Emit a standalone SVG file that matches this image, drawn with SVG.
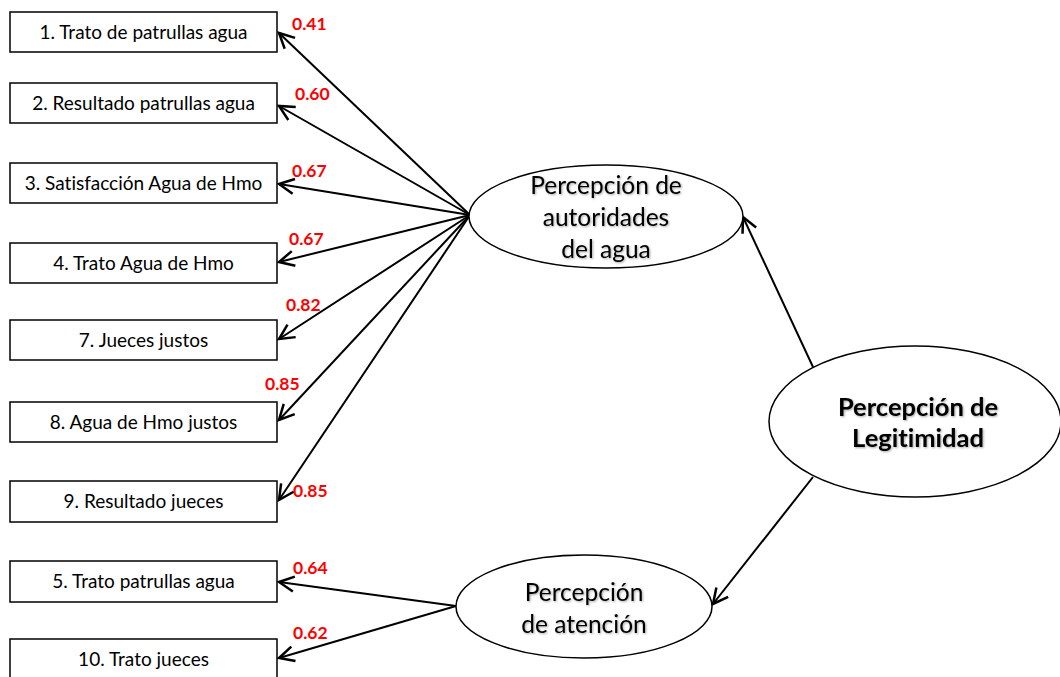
<svg xmlns="http://www.w3.org/2000/svg" width="1060" height="677" viewBox="0 0 1060 677">
<style>
.box{fill:#fff;stroke:#000;stroke-width:1.5}
.bt{font-family:Lato,"Liberation Sans",sans-serif;font-size:19px;fill:#000;text-anchor:middle;font-variant-ligatures:none}
.ell{fill:#fff;stroke:#000;stroke-width:1.5}
.et{font-family:Lato,"Liberation Sans",sans-serif;font-size:24.5px;fill:#000;text-anchor:middle;font-variant-ligatures:none}
.eb{font-weight:bold;font-size:25.5px}
.lbl{font-family:Lato,"Liberation Sans",sans-serif;font-size:17.5px;font-weight:bold;fill:#ff0000}
.con{stroke:#000;stroke-width:2;fill:none;marker-end:url(#ah)}
</style>
<defs>
<marker id="ah" markerUnits="userSpaceOnUse" markerWidth="20" markerHeight="20" viewBox="-14 -8 16 16" refX="0" refY="0" orient="auto">
<path d="M-12,-6 L0,0 L-12,6" fill="none" stroke="#000" stroke-width="2"/>
</marker>
<filter id="sh" x="-10%" y="-10%" width="120%" height="130%">
<feDropShadow dx="1" dy="1" stdDeviation="1" flood-color="#000" flood-opacity="0.35"/>
</filter>
</defs>
<rect width="1060" height="677" fill="#fff"/>
<g id="connectors">
<line class="con" x1="470" y1="215" x2="279" y2="33"/>
<line class="con" x1="470" y1="215" x2="279" y2="106"/>
<line class="con" x1="470" y1="215" x2="279" y2="184"/>
<line class="con" x1="470" y1="215" x2="279" y2="262"/>
<line class="con" x1="470" y1="215" x2="279" y2="339"/>
<line class="con" x1="470" y1="215" x2="279" y2="420"/>
<line class="con" x1="470" y1="215" x2="279" y2="500"/>
<line class="con" x1="456" y1="606" x2="279" y2="582"/>
<line class="con" x1="456" y1="606" x2="279" y2="658"/>
<line class="con" x1="813" y1="367" x2="743" y2="217"/>
<line class="con" x1="813" y1="477" x2="713" y2="604"/>
</g>
<g id="n1"><rect class="box" x="10" y="12" width="267" height="40"/><text class="bt" x="143.5" y="38.5">1. Trato de patrullas agua</text></g>
<g id="n2"><rect class="box" x="10" y="83" width="267" height="40"/><text class="bt" x="143.5" y="109.5">2. Resultado patrullas agua</text></g>
<g id="n3"><rect class="box" x="10" y="163" width="267" height="40"/><text class="bt" x="143.5" y="189.5">3. Satisfacción Agua de Hmo</text></g>
<g id="n4"><rect class="box" x="10" y="243" width="267" height="40"/><text class="bt" x="143.5" y="269.5">4. Trato Agua de Hmo</text></g>
<g id="n7"><rect class="box" x="10" y="320" width="267" height="40"/><text class="bt" x="143.5" y="346.5">7. Jueces justos</text></g>
<g id="n8"><rect class="box" x="10" y="402" width="267" height="40"/><text class="bt" x="143.5" y="428.5">8. Agua de Hmo justos</text></g>
<g id="n9"><rect class="box" x="10" y="481" width="267" height="41"/><text class="bt" x="143.5" y="507.5">9. Resultado jueces</text></g>
<g id="n5"><rect class="box" x="10" y="561" width="267" height="41"/><text class="bt" x="143.5" y="587.5">5. Trato patrullas agua</text></g>
<g id="n10"><rect class="box" x="10" y="639" width="267" height="41"/><text class="bt" x="143.5" y="665.5">10. Trato jueces</text></g>
<g id="autoridades"><ellipse class="ell" cx="606" cy="216.5" rx="137" ry="51.5"/>
<text class="et" filter="url(#sh)" x="606" y="194">Percepción de</text>
<text class="et" filter="url(#sh)" x="606" y="226">autoridades</text>
<text class="et" filter="url(#sh)" x="606" y="258">del agua</text></g>
<g id="legitimidad"><ellipse class="ell" cx="915" cy="421.5" rx="146" ry="75.5"/>
<text class="et eb" filter="url(#sh)" x="918" y="416">Percepción de</text>
<text class="et eb" filter="url(#sh)" x="918" y="447">Legitimidad</text></g>
<g id="atencion"><ellipse class="ell" cx="584" cy="606.5" rx="128" ry="51.5"/>
<text class="et" filter="url(#sh)" x="584" y="601">Percepción</text>
<text class="et" filter="url(#sh)" x="584" y="633">de atención</text></g>
<g id="labels">
<text class="lbl" x="292" y="30">0.41</text>
<text class="lbl" x="295" y="100">0.60</text>
<text class="lbl" x="292" y="177">0.67</text>
<text class="lbl" x="289" y="245">0.67</text>
<text class="lbl" x="286" y="311">0.82</text>
<text class="lbl" x="265" y="390">0.85</text>
<text class="lbl" x="293" y="497">0.85</text>
<text class="lbl" x="293" y="574">0.64</text>
<text class="lbl" x="293" y="639">0.62</text>
</g>
</svg>
